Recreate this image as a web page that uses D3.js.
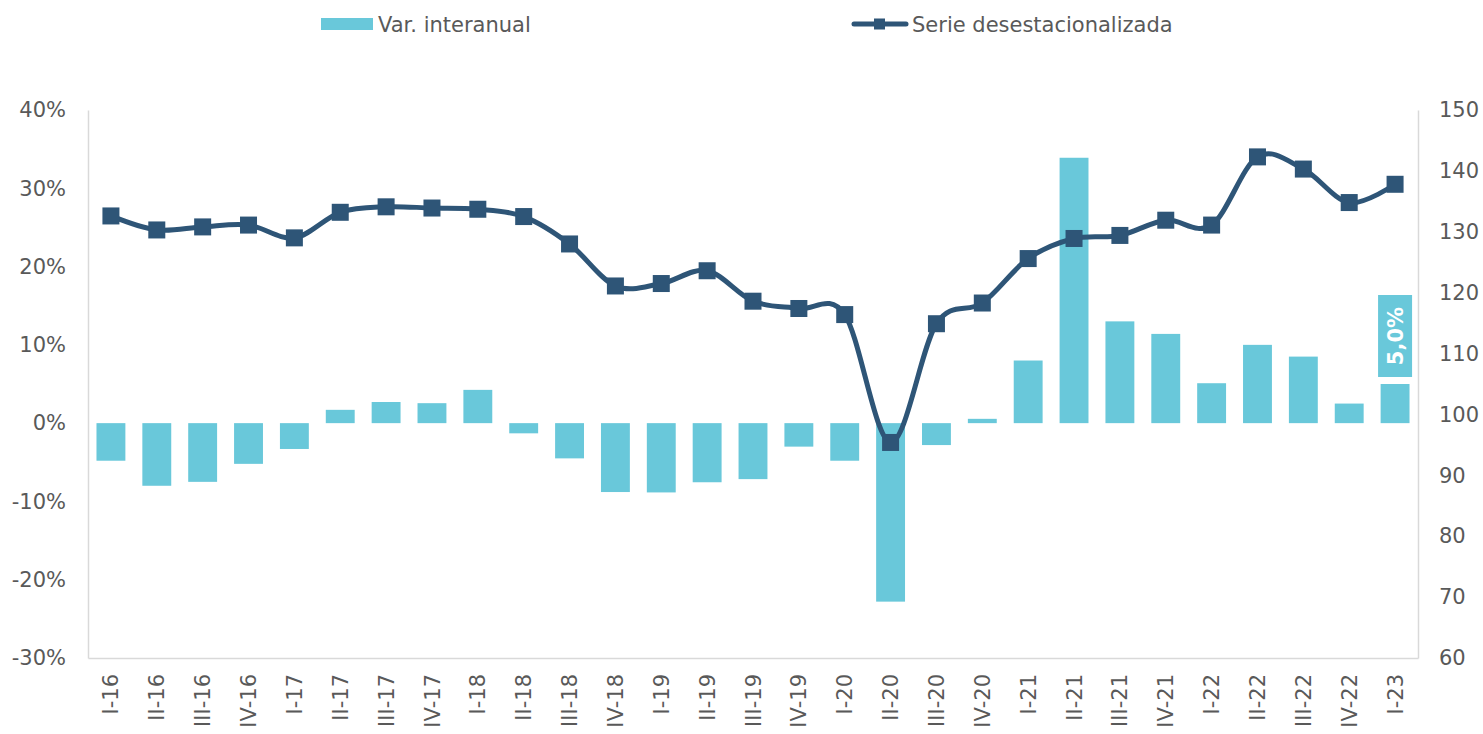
<!DOCTYPE html>
<html>
<head>
<meta charset="utf-8">
<script src="https://cdn.jsdelivr.net/npm/d3@7"></script>
<style>
  html, body { margin: 0; padding: 0; background: #fff; }
  svg { display: block; }
  text { font-family: "DejaVu Sans", Verdana, sans-serif; fill: #595959; }
</style>
</head>
<body>
<svg id="chart" width="1483" height="734"></svg>
<script>
const categories = ["I-16","II-16","III-16","IV-16","I-17","II-17","III-17","IV-17","I-18","II-18","III-18","IV-18","I-19","II-19","III-19","IV-19","I-20","II-20","III-20","IV-20","I-21","II-21","III-21","IV-21","I-22","II-22","III-22","IV-22","I-23"];
const varInteranual = [-4.8,-8.0,-7.5,-5.2,-3.3,1.7,2.7,2.55,4.25,-1.3,-4.5,-8.8,-8.85,-7.55,-7.15,-3.0,-4.8,-22.8,-2.8,0.55,8.0,33.9,13.0,11.4,5.1,10.0,8.5,2.5,5.0];
const serieDesest = [132.6,130.3,130.8,131.1,129.0,133.2,134.1,133.9,133.7,132.5,128.0,121.1,121.5,123.6,118.6,117.4,116.4,95.4,114.9,118.3,125.6,128.9,129.4,131.9,131.1,142.3,140.3,134.8,137.8];
const leftTicks = [-30,-20,-10,0,10,20,30,40];
const rightTicks = [60,70,80,90,100,110,120,130,140,150];
const seriesNames = ["Var. interanual","Serie desestacionalizada"];
const lastLabel = "5,0%";

(function () {
const barColor = "#69c8da";
const lineColor = "#2e5577";
const axisColor = "#d9d9d9";

const svg = d3.select("#chart");
const pl = 88, pr = 1418, pt = 110, pb = 658;

const x = d3.scaleBand().domain(categories).range([pl, pr]).paddingInner(0.37).paddingOuter(0.185);
const yL = d3.scaleLinear().domain([-30, 40]).range([pb, pt]);
const yR = d3.scaleLinear().domain([60, 150]).range([pb, pt]);

// axes
const axL = svg.append("g").attr("transform", `translate(${pl},0)`)
  .call(d3.axisLeft(yL).tickValues(leftTicks).tickSize(0).tickPadding(22).tickFormat(d => d + "%"));
const axR = svg.append("g").attr("transform", `translate(${pr},0)`)
  .call(d3.axisRight(yR).tickValues(rightTicks).tickSize(0).tickPadding(21));
const axB = svg.append("g").attr("transform", `translate(0,${pb})`)
  .call(d3.axisBottom(x).tickSize(0).tickPadding(0));
[axL, axR, axB].forEach(a => {
  a.select(".domain").attr("stroke", axisColor).attr("stroke-width", 1.5);
  a.selectAll("text").style("font-family", '"DejaVu Sans", Verdana, sans-serif').style("font-size", "21px").attr("fill", "#595959");
});
axB.selectAll(".tick text")
  .attr("transform", "rotate(-90)")
  .attr("text-anchor", "end")
  .attr("x", -16).attr("y", 0).attr("dy", "0.36em");

// bars
svg.append("g").selectAll("rect").data(varInteranual).join("rect")
  .attr("x", (d, i) => x(categories[i]))
  .attr("width", x.bandwidth())
  .attr("y", d => yL(Math.max(0, d)))
  .attr("height", d => Math.abs(yL(d) - yL(0)))
  .attr("fill", barColor);

// line
const line = d3.line()
  .x((d, i) => x(categories[i]) + x.bandwidth() / 2)
  .y(d => yR(d))
  .curve(d3.curveCatmullRom.alpha(0));
svg.append("path").datum(serieDesest)
  .attr("d", line).attr("fill", "none")
  .attr("stroke", lineColor).attr("stroke-width", 5).attr("stroke-linejoin", "round");
const ms = 17;
svg.append("g").selectAll("rect").data(serieDesest).join("rect")
  .attr("x", (d, i) => x(categories[i]) + x.bandwidth() / 2 - ms / 2)
  .attr("y", d => yR(d) - ms / 2)
  .attr("width", ms).attr("height", ms)
  .attr("fill", lineColor);

// last value label
const li = categories.length - 1;
const cx = x(categories[li]) + x.bandwidth() / 2;
const boxBottom = yL(varInteranual[li]) - 7;
const boxH = 82, boxW = 34;
svg.append("rect").attr("x", cx - boxW / 2).attr("y", boxBottom - boxH)
  .attr("width", boxW).attr("height", boxH).attr("fill", barColor);
svg.append("text")
  .attr("transform", `translate(${cx},${boxBottom - boxH / 2}) rotate(-90)`)
  .attr("text-anchor", "middle").attr("dy", "0.36em")
  .style("font-size", "21px").style("font-weight", "bold").style("fill", "#ffffff")
  .text(lastLabel);

// legend
const lg = svg.append("g");
lg.append("rect").attr("x", 321).attr("y", 18).attr("width", 52).attr("height", 12).attr("fill", barColor);
lg.append("text").attr("x", 378).attr("y", 32).style("font-size", "21px").text(seriesNames[0]);
lg.append("line").attr("x1", 854).attr("x2", 906).attr("y1", 24).attr("y2", 24)
  .attr("stroke", lineColor).attr("stroke-width", 5).attr("stroke-linecap", "round");
lg.append("rect").attr("x", 874).attr("y", 18.5).attr("width", 11).attr("height", 11).attr("fill", lineColor);
lg.append("text").attr("x", 912).attr("y", 32).style("font-size", "21px").text(seriesNames[1]);
})();
</script>
</body>
</html>
